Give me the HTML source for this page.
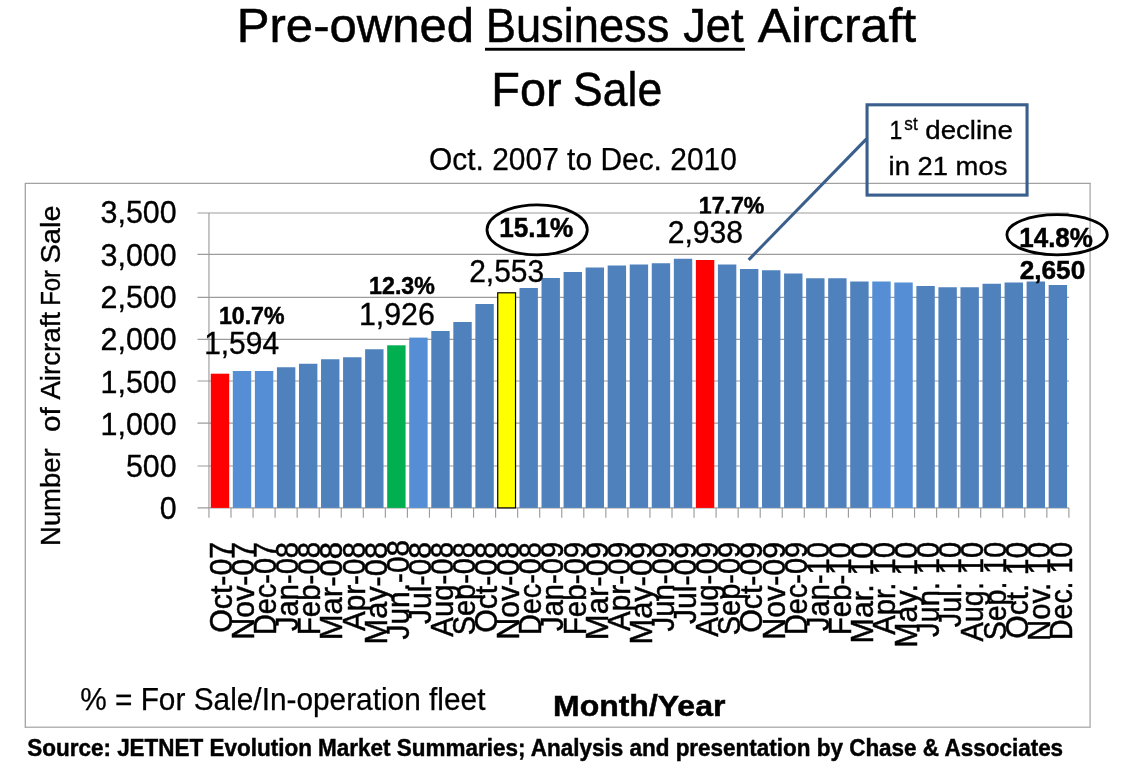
<!DOCTYPE html>
<html lang="en">
<head>
<meta charset="utf-8">
<title>Pre-owned Business Jet Aircraft For Sale</title>
<style>
html,body{margin:0;padding:0;background:#fff;}
body{width:1125px;height:777px;overflow:hidden;}
svg{display:block;}
text{white-space:pre;}
</style>
</head>
<body>
<svg width="1125" height="777" viewBox="0 0 1125 777">
<rect x="0" y="0" width="1125" height="777" fill="#ffffff"/>
<rect x="25.3" y="183.4" width="1064.8" height="543.9" fill="#ffffff" stroke="none"/>
<path d="M1090.1 183.4 V727.3 H25.3" fill="none" stroke="#b4b4b4" stroke-width="1.5"/>
<path d="M25.3 728.0 V183.4 H1090.8" fill="none" stroke="#a2a2a2" stroke-width="1.3"/>
<g stroke="#9c9c9c" stroke-width="1.15" fill="none">
<line x1="197.5" y1="507.80" x2="1068.90" y2="507.80"/>
<line x1="197.5" y1="466.00" x2="1068.90" y2="466.00"/>
<line x1="197.5" y1="423.10" x2="1068.90" y2="423.10"/>
<line x1="197.5" y1="381.00" x2="1068.90" y2="381.00"/>
<line x1="197.5" y1="339.40" x2="1068.90" y2="339.40"/>
<line x1="197.5" y1="297.40" x2="1068.90" y2="297.40"/>
<line x1="197.5" y1="254.40" x2="1068.90" y2="254.40"/>
<line x1="197.5" y1="213.00" x2="1068.90" y2="213.00"/>
<line x1="208.95" y1="212.90" x2="208.95" y2="507.90"/>
<line x1="208.95" y1="507.90" x2="208.95" y2="517.70"/>
<line x1="231.00" y1="507.90" x2="231.00" y2="517.70"/>
<line x1="253.05" y1="507.90" x2="253.05" y2="517.70"/>
<line x1="275.10" y1="507.90" x2="275.10" y2="517.70"/>
<line x1="297.15" y1="507.90" x2="297.15" y2="517.70"/>
<line x1="319.20" y1="507.90" x2="319.20" y2="517.70"/>
<line x1="341.25" y1="507.90" x2="341.25" y2="517.70"/>
<line x1="363.30" y1="507.90" x2="363.30" y2="517.70"/>
<line x1="385.35" y1="507.90" x2="385.35" y2="517.70"/>
<line x1="407.40" y1="507.90" x2="407.40" y2="517.70"/>
<line x1="429.45" y1="507.90" x2="429.45" y2="517.70"/>
<line x1="451.50" y1="507.90" x2="451.50" y2="517.70"/>
<line x1="473.55" y1="507.90" x2="473.55" y2="517.70"/>
<line x1="495.60" y1="507.90" x2="495.60" y2="517.70"/>
<line x1="517.65" y1="507.90" x2="517.65" y2="517.70"/>
<line x1="539.70" y1="507.90" x2="539.70" y2="517.70"/>
<line x1="561.75" y1="507.90" x2="561.75" y2="517.70"/>
<line x1="583.80" y1="507.90" x2="583.80" y2="517.70"/>
<line x1="605.85" y1="507.90" x2="605.85" y2="517.70"/>
<line x1="627.90" y1="507.90" x2="627.90" y2="517.70"/>
<line x1="649.95" y1="507.90" x2="649.95" y2="517.70"/>
<line x1="672.00" y1="507.90" x2="672.00" y2="517.70"/>
<line x1="694.05" y1="507.90" x2="694.05" y2="517.70"/>
<line x1="716.10" y1="507.90" x2="716.10" y2="517.70"/>
<line x1="738.15" y1="507.90" x2="738.15" y2="517.70"/>
<line x1="760.20" y1="507.90" x2="760.20" y2="517.70"/>
<line x1="782.25" y1="507.90" x2="782.25" y2="517.70"/>
<line x1="804.30" y1="507.90" x2="804.30" y2="517.70"/>
<line x1="826.35" y1="507.90" x2="826.35" y2="517.70"/>
<line x1="848.40" y1="507.90" x2="848.40" y2="517.70"/>
<line x1="870.45" y1="507.90" x2="870.45" y2="517.70"/>
<line x1="892.50" y1="507.90" x2="892.50" y2="517.70"/>
<line x1="914.55" y1="507.90" x2="914.55" y2="517.70"/>
<line x1="936.60" y1="507.90" x2="936.60" y2="517.70"/>
<line x1="958.65" y1="507.90" x2="958.65" y2="517.70"/>
<line x1="980.70" y1="507.90" x2="980.70" y2="517.70"/>
<line x1="1002.75" y1="507.90" x2="1002.75" y2="517.70"/>
<line x1="1024.80" y1="507.90" x2="1024.80" y2="517.70"/>
<line x1="1046.85" y1="507.90" x2="1046.85" y2="517.70"/>
<line x1="1068.90" y1="507.90" x2="1068.90" y2="517.70"/>
</g>
<g>
<rect x="210.78" y="373.70" width="18.40" height="134.20" fill="#ff0000"/>
<rect x="232.82" y="371.00" width="18.40" height="136.90" fill="#558ed5"/>
<rect x="254.88" y="371.00" width="18.40" height="136.90" fill="#558ed5"/>
<rect x="276.93" y="367.25" width="18.40" height="140.65" fill="#4f81bd"/>
<rect x="298.98" y="363.75" width="18.40" height="144.15" fill="#4f81bd"/>
<rect x="321.03" y="359.25" width="18.40" height="148.65" fill="#4f81bd"/>
<rect x="343.07" y="357.25" width="18.40" height="150.65" fill="#4f81bd"/>
<rect x="365.12" y="349.25" width="18.40" height="158.65" fill="#4f81bd"/>
<rect x="387.18" y="345.30" width="18.40" height="162.60" fill="#00b050"/>
<rect x="409.22" y="337.60" width="18.40" height="170.30" fill="#558ed5"/>
<rect x="431.28" y="331.00" width="18.40" height="176.90" fill="#4f81bd"/>
<rect x="453.32" y="322.00" width="18.40" height="185.90" fill="#4f81bd"/>
<rect x="475.38" y="304.00" width="18.40" height="203.90" fill="#4f81bd"/>
<rect x="497.73" y="292.80" width="17.80" height="215.10" fill="#ffff00" stroke="#000000" stroke-width="1.2"/>
<rect x="519.47" y="288.00" width="18.40" height="219.90" fill="#4f81bd"/>
<rect x="541.52" y="278.00" width="18.40" height="229.90" fill="#4f81bd"/>
<rect x="563.57" y="272.00" width="18.40" height="235.90" fill="#4f81bd"/>
<rect x="585.62" y="267.50" width="18.40" height="240.40" fill="#4f81bd"/>
<rect x="607.67" y="265.50" width="18.40" height="242.40" fill="#4f81bd"/>
<rect x="629.72" y="264.50" width="18.40" height="243.40" fill="#4f81bd"/>
<rect x="651.77" y="263.25" width="18.40" height="244.65" fill="#4f81bd"/>
<rect x="673.82" y="258.75" width="18.40" height="249.15" fill="#4f81bd"/>
<rect x="695.88" y="260.00" width="18.40" height="247.90" fill="#ff0000"/>
<rect x="717.92" y="264.50" width="18.40" height="243.40" fill="#4f81bd"/>
<rect x="739.97" y="269.00" width="18.40" height="238.90" fill="#4f81bd"/>
<rect x="762.02" y="270.25" width="18.40" height="237.65" fill="#4f81bd"/>
<rect x="784.08" y="273.50" width="18.40" height="234.40" fill="#4f81bd"/>
<rect x="806.12" y="278.25" width="18.40" height="229.65" fill="#4f81bd"/>
<rect x="828.17" y="278.25" width="18.40" height="229.65" fill="#4f81bd"/>
<rect x="850.22" y="281.50" width="18.40" height="226.40" fill="#4f81bd"/>
<rect x="872.27" y="281.50" width="18.40" height="226.40" fill="#558ed5"/>
<rect x="894.33" y="282.50" width="18.40" height="225.40" fill="#558ed5"/>
<rect x="916.38" y="286.00" width="18.40" height="221.90" fill="#4f81bd"/>
<rect x="938.42" y="287.25" width="18.40" height="220.65" fill="#4f81bd"/>
<rect x="960.47" y="287.25" width="18.40" height="220.65" fill="#4f81bd"/>
<rect x="982.52" y="283.75" width="18.40" height="224.15" fill="#4f81bd"/>
<rect x="1004.58" y="282.50" width="18.40" height="225.40" fill="#4f81bd"/>
<rect x="1026.62" y="281.50" width="18.40" height="226.40" fill="#4f81bd"/>
<rect x="1048.67" y="285.00" width="18.40" height="222.90" fill="#4f81bd"/>
</g>
<line x1="866.5" y1="138.9" x2="748.7" y2="259.8" stroke="#3b5f8d" stroke-width="3.1" stroke-linecap="butt"/>
<rect x="867.05" y="104.8" width="160.0" height="90.3" fill="none" stroke="#3b5f8d" stroke-width="3.1"/>
<g font-family="'Liberation Sans', Arial, Helvetica, sans-serif" fill="#000000">
<text x="236.77" y="41.80" font-size="49.00" textLength="237.33" lengthAdjust="spacingAndGlyphs" stroke="#000" stroke-width="0.50">Pre-owned</text>
<text x="485.78" y="41.80" font-size="49.00" textLength="183.60" lengthAdjust="spacingAndGlyphs" stroke="#000" stroke-width="0.50">Business</text>
<text x="683.22" y="41.80" font-size="49.00" textLength="60.36" lengthAdjust="spacingAndGlyphs" stroke="#000" stroke-width="0.50">Jet</text>
<text x="757.70" y="41.80" font-size="49.00" textLength="158.51" lengthAdjust="spacingAndGlyphs" stroke="#000" stroke-width="0.50">Aircraft</text>
<rect x="485" y="47.8" width="260" height="2.9" fill="#000000"/>
<text x="491.35" y="105.70" font-size="49.00" textLength="70.25" lengthAdjust="spacingAndGlyphs" stroke="#000" stroke-width="0.50">For</text>
<text x="573.10" y="105.70" font-size="49.00" textLength="89.16" lengthAdjust="spacingAndGlyphs" stroke="#000" stroke-width="0.50">Sale</text>
<text x="429.05" y="169.90" font-size="31.00" textLength="307.77" lengthAdjust="spacingAndGlyphs" stroke="#000" stroke-width="0.25">Oct. 2007 to Dec. 2010</text>
<text x="159.69" y="519.30" font-size="31.50" textLength="16.91" lengthAdjust="spacingAndGlyphs" stroke="#000" stroke-width="0.35">0</text>
<text x="125.93" y="477.04" font-size="31.50" textLength="50.74" lengthAdjust="spacingAndGlyphs" stroke="#000" stroke-width="0.35">500</text>
<text x="100.54" y="434.78" font-size="31.50" textLength="76.10" lengthAdjust="spacingAndGlyphs" stroke="#000" stroke-width="0.35">1,000</text>
<text x="100.54" y="392.52" font-size="31.50" textLength="76.10" lengthAdjust="spacingAndGlyphs" stroke="#000" stroke-width="0.35">1,500</text>
<text x="100.54" y="350.26" font-size="31.50" textLength="76.10" lengthAdjust="spacingAndGlyphs" stroke="#000" stroke-width="0.35">2,000</text>
<text x="100.54" y="308.00" font-size="31.50" textLength="76.10" lengthAdjust="spacingAndGlyphs" stroke="#000" stroke-width="0.35">2,500</text>
<text x="100.54" y="265.74" font-size="31.50" textLength="76.10" lengthAdjust="spacingAndGlyphs" stroke="#000" stroke-width="0.35">3,000</text>
<text x="100.54" y="223.48" font-size="31.50" textLength="76.10" lengthAdjust="spacingAndGlyphs" stroke="#000" stroke-width="0.35">3,500</text>
<text x="204.16" y="353.60" font-size="31.40" textLength="74.87" lengthAdjust="spacingAndGlyphs" stroke="#000" stroke-width="0.35">1,594</text>
<text x="358.92" y="325.00" font-size="31.40" textLength="75.97" lengthAdjust="spacingAndGlyphs" stroke="#000" stroke-width="0.35">1,926</text>
<text x="469.20" y="281.50" font-size="31.40" textLength="74.97" lengthAdjust="spacingAndGlyphs" stroke="#000" stroke-width="0.35">2,553</text>
<text x="667.69" y="242.90" font-size="31.40" textLength="75.39" lengthAdjust="spacingAndGlyphs" stroke="#000" stroke-width="0.35">2,938</text>
<text x="218.91" y="324.20" font-size="24.10" font-weight="bold" textLength="65.58" lengthAdjust="spacingAndGlyphs" stroke="#000" stroke-width="0.50">10.7%</text>
<text x="369.11" y="294.30" font-size="24.10" font-weight="bold" textLength="65.73" lengthAdjust="spacingAndGlyphs" stroke="#000" stroke-width="0.50">12.3%</text>
<text x="499.23" y="237.20" font-size="27.10" font-weight="bold" textLength="74.13" lengthAdjust="spacingAndGlyphs" stroke="#000" stroke-width="0.50">15.1%</text>
<text x="1019.24" y="246.90" font-size="27.30" font-weight="bold" textLength="73.72" lengthAdjust="spacingAndGlyphs" stroke="#000" stroke-width="0.50">14.8%</text>
<text x="1019.72" y="278.90" font-size="26.20" font-weight="bold" textLength="65.47" lengthAdjust="spacingAndGlyphs" stroke="#000" stroke-width="0.50">2,650</text>
<clipPath id="cp177"><rect x="690" y="190" width="90" height="23.6"/></clipPath>
<g clip-path="url(#cp177)"><text x="698.81" y="214.30" font-size="24.10" font-weight="bold" textLength="65.58" lengthAdjust="spacingAndGlyphs" stroke="#000" stroke-width="0.50">17.7%</text></g>
<text x="80.16" y="709.90" font-size="30.90" textLength="405.28" lengthAdjust="spacingAndGlyphs" stroke="#000" stroke-width="0.25">% = For Sale/In-operation fleet</text>
<text x="553.02" y="715.60" font-size="29.20" font-weight="bold" textLength="172.35" lengthAdjust="spacingAndGlyphs" stroke="#000" stroke-width="0.50">Month/Year</text>
<text x="27.24" y="756.00" font-size="23.40" font-weight="bold" textLength="1035.89" lengthAdjust="spacingAndGlyphs" stroke="#000" stroke-width="0.45">Source: JETNET Evolution Market Summaries; Analysis and presentation by Chase &amp; Associates</text>
<text x="889.48" y="138.60" font-size="26.60" textLength="12.79" lengthAdjust="spacingAndGlyphs" stroke="#000" stroke-width="0.35">1</text>
<text x="904.37" y="129.50" font-size="17.80" textLength="13.27" lengthAdjust="spacingAndGlyphs" stroke="#000" stroke-width="0.35">st</text>
<text x="925.30" y="138.60" font-size="26.60" textLength="87.48" lengthAdjust="spacingAndGlyphs" stroke="#000" stroke-width="0.35">decline</text>
<text x="888.62" y="174.50" font-size="26.60" textLength="118.75" lengthAdjust="spacingAndGlyphs" stroke="#000" stroke-width="0.35">in 21 mos</text>
<g transform="translate(60.1,543.70) rotate(-90)"><text x="-2.19" y="0.00" font-size="28.20" textLength="97.41" lengthAdjust="spacingAndGlyphs" stroke="#000" stroke-width="0.35">Number</text></g>
<g transform="translate(60.1,430.70) rotate(-90)"><text x="-1.19" y="0.00" font-size="28.20" textLength="24.76" lengthAdjust="spacingAndGlyphs" stroke="#000" stroke-width="0.35">of</text></g>
<g transform="translate(60.1,399.60) rotate(-90)"><text x="0.00" y="0.00" font-size="28.20" textLength="87.66" lengthAdjust="spacingAndGlyphs" stroke="#000" stroke-width="0.35">Aircraft</text></g>
<g transform="translate(60.1,303.90) rotate(-90)"><text x="-1.91" y="0.00" font-size="28.20" textLength="35.87" lengthAdjust="spacingAndGlyphs" stroke="#000" stroke-width="0.35">For</text></g>
<g transform="translate(60.1,262.20) rotate(-90)"><text x="-1.31" y="0.00" font-size="28.20" textLength="58.11" lengthAdjust="spacingAndGlyphs" stroke="#000" stroke-width="0.35">Sale</text></g>
<g transform="translate(231.90,631.50) rotate(-90)"><text x="-1.37" y="0.00" font-size="31.80" textLength="91.06" lengthAdjust="spacingAndGlyphs" stroke="#000" stroke-width="0.50">Oct-07</text></g>
<g transform="translate(254.00,637.30) rotate(-90)"><text x="-2.43" y="0.00" font-size="31.80" textLength="97.86" lengthAdjust="spacingAndGlyphs" stroke="#000" stroke-width="0.50">Nov-07</text></g>
<g transform="translate(276.11,632.80) rotate(-90)"><text x="-2.31" y="0.00" font-size="31.80" textLength="93.18" lengthAdjust="spacingAndGlyphs" stroke="#000" stroke-width="0.50">Dec-07</text></g>
<g transform="translate(298.22,630.50) rotate(-90)"><text x="-0.44" y="0.00" font-size="31.80" textLength="88.98" lengthAdjust="spacingAndGlyphs" stroke="#000" stroke-width="0.50">Jan-08</text></g>
<g transform="translate(320.32,632.80) rotate(-90)"><text x="-2.35" y="0.00" font-size="31.80" textLength="93.24" lengthAdjust="spacingAndGlyphs" stroke="#000" stroke-width="0.50">Feb-08</text></g>
<g transform="translate(342.43,637.80) rotate(-90)"><text x="-2.49" y="0.00" font-size="31.80" textLength="98.41" lengthAdjust="spacingAndGlyphs" stroke="#000" stroke-width="0.50">Mar-08</text></g>
<g transform="translate(364.53,631.10) rotate(-90)"><text x="0.00" y="0.00" font-size="31.80" textLength="89.14" lengthAdjust="spacingAndGlyphs" stroke="#000" stroke-width="0.50">Apr-08</text></g>
<g transform="translate(386.63,642.00) rotate(-90)"><text x="-2.46" y="0.00" font-size="31.80" textLength="102.48" lengthAdjust="spacingAndGlyphs" stroke="#000" stroke-width="0.50">May-08</text></g>
<g transform="translate(408.74,639.00) rotate(-90)"><text x="-0.45" y="0.00" font-size="31.80" textLength="99.66" lengthAdjust="spacingAndGlyphs" stroke="#000" stroke-width="0.50">Jun.-08</text></g>
<g transform="translate(430.85,623.60) rotate(-90)"><text x="-0.45" y="0.00" font-size="31.80" textLength="82.02" lengthAdjust="spacingAndGlyphs" stroke="#000" stroke-width="0.50">Jul-08</text></g>
<g transform="translate(452.95,636.70) rotate(-90)"><text x="0.00" y="0.00" font-size="31.80" textLength="94.67" lengthAdjust="spacingAndGlyphs" stroke="#000" stroke-width="0.50">Aug-08</text></g>
<g transform="translate(475.06,634.00) rotate(-90)"><text x="-1.30" y="0.00" font-size="31.80" textLength="93.25" lengthAdjust="spacingAndGlyphs" stroke="#000" stroke-width="0.50">Sep-08</text></g>
<g transform="translate(497.16,631.50) rotate(-90)"><text x="-1.36" y="0.00" font-size="31.80" textLength="90.91" lengthAdjust="spacingAndGlyphs" stroke="#000" stroke-width="0.50">Oct-08</text></g>
<g transform="translate(519.26,637.30) rotate(-90)"><text x="-2.42" y="0.00" font-size="31.80" textLength="97.70" lengthAdjust="spacingAndGlyphs" stroke="#000" stroke-width="0.50">Nov-08</text></g>
<g transform="translate(541.37,632.80) rotate(-90)"><text x="-2.31" y="0.00" font-size="31.80" textLength="93.03" lengthAdjust="spacingAndGlyphs" stroke="#000" stroke-width="0.50">Dec-08</text></g>
<g transform="translate(563.48,630.50) rotate(-90)"><text x="-0.44" y="0.00" font-size="31.80" textLength="89.13" lengthAdjust="spacingAndGlyphs" stroke="#000" stroke-width="0.50">Jan-09</text></g>
<g transform="translate(585.58,632.80) rotate(-90)"><text x="-2.36" y="0.00" font-size="31.80" textLength="93.39" lengthAdjust="spacingAndGlyphs" stroke="#000" stroke-width="0.50">Feb-09</text></g>
<g transform="translate(607.69,637.80) rotate(-90)"><text x="-2.49" y="0.00" font-size="31.80" textLength="98.57" lengthAdjust="spacingAndGlyphs" stroke="#000" stroke-width="0.50">Mar-09</text></g>
<g transform="translate(629.79,631.10) rotate(-90)"><text x="0.00" y="0.00" font-size="31.80" textLength="89.29" lengthAdjust="spacingAndGlyphs" stroke="#000" stroke-width="0.50">Apr-09</text></g>
<g transform="translate(651.89,642.00) rotate(-90)"><text x="-2.46" y="0.00" font-size="31.80" textLength="102.64" lengthAdjust="spacingAndGlyphs" stroke="#000" stroke-width="0.50">May-09</text></g>
<g transform="translate(674.00,631.10) rotate(-90)"><text x="-0.44" y="0.00" font-size="31.80" textLength="89.74" lengthAdjust="spacingAndGlyphs" stroke="#000" stroke-width="0.50">Jun-09</text></g>
<g transform="translate(696.11,623.60) rotate(-90)"><text x="-0.45" y="0.00" font-size="31.80" textLength="82.17" lengthAdjust="spacingAndGlyphs" stroke="#000" stroke-width="0.50">Jul-09</text></g>
<g transform="translate(718.21,636.70) rotate(-90)"><text x="0.00" y="0.00" font-size="31.80" textLength="94.82" lengthAdjust="spacingAndGlyphs" stroke="#000" stroke-width="0.50">Aug-09</text></g>
<g transform="translate(740.32,634.00) rotate(-90)"><text x="-1.30" y="0.00" font-size="31.80" textLength="93.40" lengthAdjust="spacingAndGlyphs" stroke="#000" stroke-width="0.50">Sep-09</text></g>
<g transform="translate(762.42,631.50) rotate(-90)"><text x="-1.37" y="0.00" font-size="31.80" textLength="91.06" lengthAdjust="spacingAndGlyphs" stroke="#000" stroke-width="0.50">Oct-09</text></g>
<g transform="translate(784.52,637.30) rotate(-90)"><text x="-2.43" y="0.00" font-size="31.80" textLength="97.86" lengthAdjust="spacingAndGlyphs" stroke="#000" stroke-width="0.50">Nov-09</text></g>
<g transform="translate(806.63,632.80) rotate(-90)"><text x="-2.31" y="0.00" font-size="31.80" textLength="93.18" lengthAdjust="spacingAndGlyphs" stroke="#000" stroke-width="0.50">Dec-09</text></g>
<g transform="translate(828.74,630.50) rotate(-90)"><text x="-0.44" y="0.00" font-size="31.80" textLength="88.83" lengthAdjust="spacingAndGlyphs" stroke="#000" stroke-width="0.50">Jan-10</text></g>
<g transform="translate(850.84,632.80) rotate(-90)"><text x="-2.35" y="0.00" font-size="31.80" textLength="93.08" lengthAdjust="spacingAndGlyphs" stroke="#000" stroke-width="0.50">Feb-10</text></g>
<g transform="translate(872.94,641.00) rotate(-90)"><text x="-2.43" y="0.00" font-size="31.80" textLength="101.50" lengthAdjust="spacingAndGlyphs" stroke="#000" stroke-width="0.50">Mar. 10</text></g>
<g transform="translate(895.05,634.80) rotate(-90)"><text x="0.00" y="0.00" font-size="31.80" textLength="92.80" lengthAdjust="spacingAndGlyphs" stroke="#000" stroke-width="0.50">Apr. 10</text></g>
<g transform="translate(917.15,645.30) rotate(-90)"><text x="-2.43" y="0.00" font-size="31.80" textLength="105.89" lengthAdjust="spacingAndGlyphs" stroke="#000" stroke-width="0.50">May. 10</text></g>
<g transform="translate(939.26,636.50) rotate(-90)"><text x="-0.43" y="0.00" font-size="31.80" textLength="94.96" lengthAdjust="spacingAndGlyphs" stroke="#000" stroke-width="0.50">Jun. 10</text></g>
<g transform="translate(961.37,626.80) rotate(-90)"><text x="-0.43" y="0.00" font-size="31.80" textLength="85.29" lengthAdjust="spacingAndGlyphs" stroke="#000" stroke-width="0.50">Jul. 10</text></g>
<g transform="translate(983.47,641.50) rotate(-90)"><text x="0.00" y="0.00" font-size="31.80" textLength="99.58" lengthAdjust="spacingAndGlyphs" stroke="#000" stroke-width="0.50">Aug. 10</text></g>
<g transform="translate(1005.58,639.00) rotate(-90)"><text x="-1.28" y="0.00" font-size="31.80" textLength="98.35" lengthAdjust="spacingAndGlyphs" stroke="#000" stroke-width="0.50">Sep. 10</text></g>
<g transform="translate(1027.68,637.30) rotate(-90)"><text x="-1.35" y="0.00" font-size="31.80" textLength="96.81" lengthAdjust="spacingAndGlyphs" stroke="#000" stroke-width="0.50">Oct. 10</text></g>
<g transform="translate(1049.79,638.70) rotate(-90)"><text x="-2.35" y="0.00" font-size="31.80" textLength="99.14" lengthAdjust="spacingAndGlyphs" stroke="#000" stroke-width="0.50">Nov. 10</text></g>
<g transform="translate(1071.89,637.70) rotate(-90)"><text x="-2.28" y="0.00" font-size="31.80" textLength="98.01" lengthAdjust="spacingAndGlyphs" stroke="#000" stroke-width="0.50">Dec. 10</text></g>
</g>
<ellipse cx="537.15" cy="229.85" rx="50.15" ry="24.95" fill="none" stroke="#000000" stroke-width="2.8"/>
<ellipse cx="1057.1" cy="234.7" rx="50.2" ry="20.1" fill="none" stroke="#000000" stroke-width="2.8"/>
</svg>
</body>
</html>
